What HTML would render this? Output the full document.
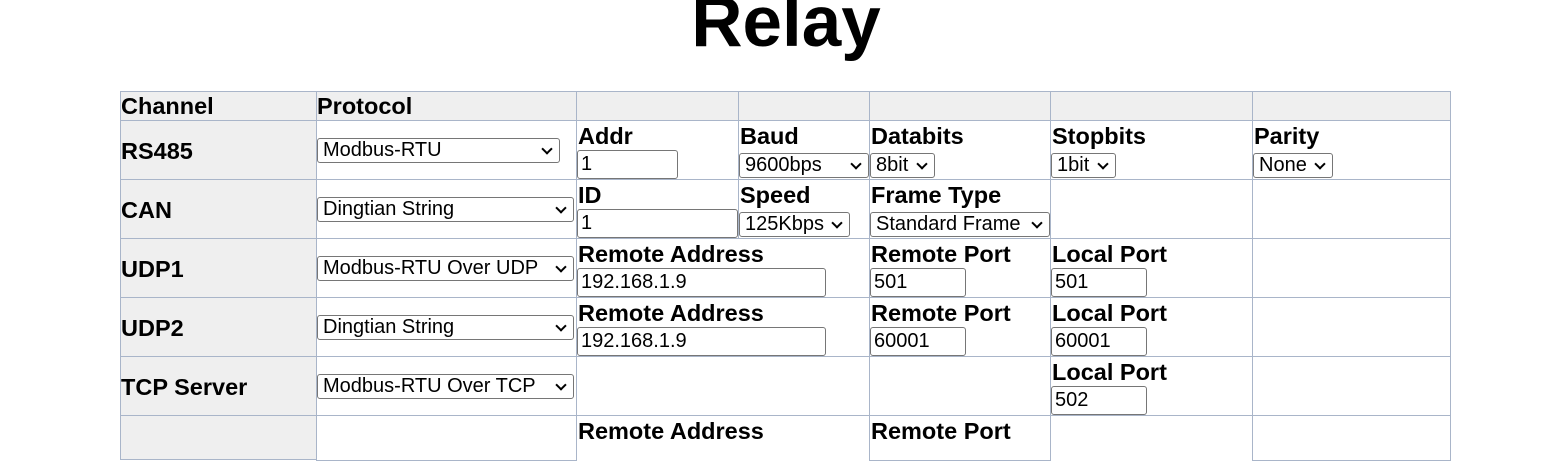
<!DOCTYPE html><html><head><style>
body{margin:0;width:1552px;height:426px;overflow:hidden;background:#fff;font-family:"Liberation Sans",sans-serif;position:relative}
.t{position:absolute;left:0;width:1572px;top:-14px;text-align:center;font-weight:bold;font-size:71px;line-height:74px}
.c{position:absolute;border:1px solid #a9b5c9;box-sizing:border-box}
.g{background:#efefef}
.b{position:absolute;font-weight:bold;font-size:23.5px;line-height:24px;white-space:nowrap}
.i{position:absolute;border:1px solid #767676;border-radius:3px;box-sizing:border-box;height:29px;font-size:20px;line-height:27px;padding-left:3px;background:#fff;white-space:nowrap}
.s{position:absolute;border:1px solid #767676;border-radius:3px;box-sizing:border-box;height:25px;font-size:20px;line-height:23px;padding-left:5px;background:#fff;white-space:nowrap}
.s:after{content:"";position:absolute;right:8px;top:6px;width:6px;height:6px;border-right:2px solid #000;border-bottom:2px solid #000;transform:rotate(45deg)}
</style></head><body>
<div class="t">Relay</div>
<!-- grid -->
<div class="c g" style="left:120px;top:91px;width:1331px;height:30px"></div>
<div class="c g" style="left:120px;top:120px;width:197px;height:340px"></div>
<div class="c" style="left:316px;top:91px;width:261px;height:370px"></div>
<div class="c" style="left:738px;top:91px;width:132px;height:148px;border-top:none"></div>
<div class="c" style="left:869px;top:91px;width:182px;height:370px"></div>
<div class="c" style="left:1252px;top:91px;width:199px;height:370px"></div>
<div class="c" style="left:120px;top:120px;width:1331px;height:60px;background:none"></div>
<div class="c" style="left:120px;top:238px;width:1331px;height:60px;background:none"></div>
<div class="c" style="left:120px;top:356px;width:1331px;height:60px;background:none"></div>
<!-- header -->
<div class="b" style="left:121px;top:94px">Channel</div>
<div class="b" style="left:317px;top:94px">Protocol</div>
<!-- row labels -->
<div class="b" style="left:121px;top:139px">RS485</div>
<div class="b" style="left:121px;top:198px">CAN</div>
<div class="b" style="left:121px;top:257px">UDP1</div>
<div class="b" style="left:121px;top:316px">UDP2</div>
<div class="b" style="left:121px;top:375px">TCP Server</div>
<div class="s" style="left:317px;top:138px;width:243px">Modbus-RTU</div>
<div class="s" style="left:317px;top:197px;width:257px">Dingtian String</div>
<div class="s" style="left:317px;top:256px;width:257px">Modbus-RTU Over UDP</div>
<div class="s" style="left:317px;top:315px;width:257px">Dingtian String</div>
<div class="s" style="left:317px;top:374px;width:257px">Modbus-RTU Over TCP</div>
<!-- RS485 -->
<div class="b" style="left:578px;top:124px">Addr</div><div class="i" style="left:577px;top:150px;width:101px">1</div>
<div class="b" style="left:740px;top:124px">Baud</div><div class="s" style="left:739px;top:153px;width:130px">9600bps</div>
<div class="b" style="left:871px;top:124px">Databits</div><div class="s" style="left:870px;top:153px;width:65px">8bit</div>
<div class="b" style="left:1052px;top:124px">Stopbits</div><div class="s" style="left:1051px;top:153px;width:65px">1bit</div>
<div class="b" style="left:1254px;top:124px">Parity</div><div class="s" style="left:1253px;top:153px;width:80px">None</div>
<!-- CAN -->
<div class="b" style="left:578px;top:183px">ID</div><div class="i" style="left:577px;top:209px;width:161px">1</div>
<div class="b" style="left:740px;top:183px">Speed</div><div class="s" style="left:739px;top:212px;width:111px">125Kbps</div>
<div class="b" style="left:871px;top:183px">Frame Type</div><div class="s" style="left:870px;top:212px;width:180px">Standard Frame</div>
<!-- UDP1 -->
<div class="b" style="left:578px;top:242px">Remote Address</div><div class="i" style="left:577px;top:268px;width:249px">192.168.1.9</div>
<div class="b" style="left:871px;top:242px">Remote Port</div><div class="i" style="left:870px;top:268px;width:96px">501</div>
<div class="b" style="left:1052px;top:242px">Local Port</div><div class="i" style="left:1051px;top:268px;width:96px">501</div>
<!-- UDP2 -->
<div class="b" style="left:578px;top:301px">Remote Address</div><div class="i" style="left:577px;top:327px;width:249px">192.168.1.9</div>
<div class="b" style="left:871px;top:301px">Remote Port</div><div class="i" style="left:870px;top:327px;width:96px">60001</div>
<div class="b" style="left:1052px;top:301px">Local Port</div><div class="i" style="left:1051px;top:327px;width:96px">60001</div>
<!-- TCP -->
<div class="b" style="left:1052px;top:360px">Local Port</div><div class="i" style="left:1051px;top:386px;width:96px">502</div>
<!-- next row partial -->
<div class="b" style="left:578px;top:419px">Remote Address</div>
<div class="b" style="left:871px;top:419px">Remote Port</div>
</body></html>
